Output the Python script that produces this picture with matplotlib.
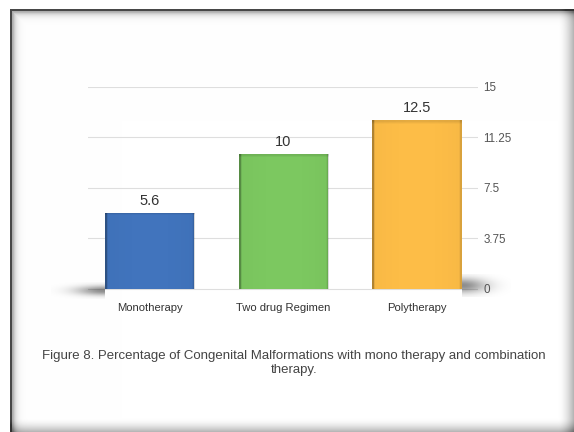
import numpy as np
import matplotlib
matplotlib.use("Agg")
import matplotlib.pyplot as plt

plt.rcParams['font.family'] = ['Liberation Sans', 'DejaVu Sans']

categories = ["Monotherapy", "Two drug Regimen", "Polytherapy"]
values = [5.6, 10, 12.5]
value_labels = ["5.6", "10", "12.5"]
yticks = [0, 3.75, 7.5, 11.25, 15]
ytick_labels = ["0", "3.75", "7.5", "11.25", "15"]
bar_colors = ["#4174BD", "#7CC860", "#FDBD47"]
caption = ("Figure 8. Percentage of Congenital Malformations with mono therapy and combination\n"
           "therapy.")

W, H = 574, 432
fig = plt.figure(figsize=(W / 100, H / 100), dpi=100)
fig.patch.set_facecolor("white")

# page frame: dark top/left border with an inner shadow, soft grey fade on right/bottom
yy, xx = np.mgrid[0:H, 0:W] + 0.5
inside = (xx >= 10) & (yy >= 9)
shade = np.where(inside, np.maximum(0.32 * np.exp(-(np.maximum(yy, 12) - 12) / 3.0),
                                    0.32 * np.exp(-(np.maximum(xx, 13) - 13) / 3.0)), 0)
shade = np.where(inside & (yy < 11.5), 0.72, shade)
shade = np.where(inside & (xx < 12.5), 0.72, shade)
shade += np.where(inside, 0.30 * np.clip((xx - 558) / 16, 0, 1) ** 1.8, 0)
shade += np.where(inside, 0.30 * np.clip((yy - 418) / 14, 0, 1) ** 1.8, 0)
shade = np.clip(shade, 0, 0.8)
bg_img = np.dstack([1 - shade] * 3)

bg = fig.add_axes([0, 0, 1, 1], zorder=0)
bg.imshow(bg_img, extent=(0, W, H, 0), aspect="auto", interpolation="nearest")
bg.set_xlim(0, W)
bg.set_ylim(H, 0)
bg.axis("off")

ax = fig.add_axes([88 / W, 1 - 298.6 / H, 390 / W, (298.6 - 86.5) / H], zorder=1)
ax.set_facecolor("none")

x = np.arange(len(categories))
bar_w = 0.67
ax.set_xlim(-0.46, 2.455)
ax.set_ylim(-0.75, 15)

# gridlines
for t in yticks:
    ax.axhline(t, color="#dedede", lw=0.8, zorder=1)

# floor shadows beside the outer bars
gx = np.linspace(0, 1, 80)
gy = np.linspace(-1, 1, 30)
GX, GY = np.meshgrid(gx, gy)
left_sh = np.zeros((30, 80, 4))
left_sh[..., 3] = 0.45 * np.exp(-(GX * 1.9) ** 2) * np.exp(-(GY * 1.7) ** 2)
ax.imshow(left_sh[:, ::-1], extent=(x[0] - bar_w / 2 - 0.40, x[0] - bar_w / 2, -0.75, 0.45),
          aspect="auto", zorder=1.5, clip_on=False)
right_sh = np.zeros((30, 80, 4))
right_sh[..., 3] = 0.45 * np.exp(-(GX * 2.0) ** 2) * np.exp(-(GY * 1.5) ** 2)
ax.imshow(right_sh, extent=(x[-1] + bar_w / 2, x[-1] + bar_w / 2 + 0.36, -0.6, 1.1),
          aspect="auto", zorder=1.5, clip_on=False)

bars = ax.bar(x, values, width=bar_w, color=bar_colors, zorder=2, linewidth=0)

# subtle shading across each bar for a rounded, lit look
px = np.linspace(0, 1, 120)
prof = np.where(px < 0.025, 0.28, 0.0) + np.where(px > 0.98, 0.12, 0.0) \
    + 0.10 * (px - 0.5) ** 2
py = np.linspace(0, 1, 60)[:, None]
for b in bars:
    over = np.zeros((60, 120, 4))
    over[..., 3] = np.clip(prof[None, :] + np.where(py < 0.012, 0.10, 0.0), 0, 1)
    im = ax.imshow(over, extent=(b.get_x(), b.get_x() + b.get_width(), 0, b.get_height()),
                   aspect="auto", zorder=2.5, interpolation="bilinear")
    im.set_clip_path(b)

for xi, v, lab in zip(x, values, value_labels):
    ax.text(xi, v + 0.35, lab, ha="center", va="bottom", fontsize=10.5, color="#333333")

ax.set_xticks(x)
ax.set_xticklabels(categories, fontsize=8.1, color="#333333")
ax.tick_params(axis="x", length=0, pad=3)
ax.set_yticks(yticks)
ax.set_yticklabels(ytick_labels, fontsize=8.4, color="#555555")
ax.yaxis.tick_right()
ax.tick_params(axis="y", length=0, pad=4)
for s in ax.spines.values():
    s.set_visible(False)

fig.text(294 / W, 1 - 363 / H, caption, ha="center", va="center", fontsize=9.5,
         color="#444444", linespacing=1.2)

fig.savefig("out.png", dpi=100)
